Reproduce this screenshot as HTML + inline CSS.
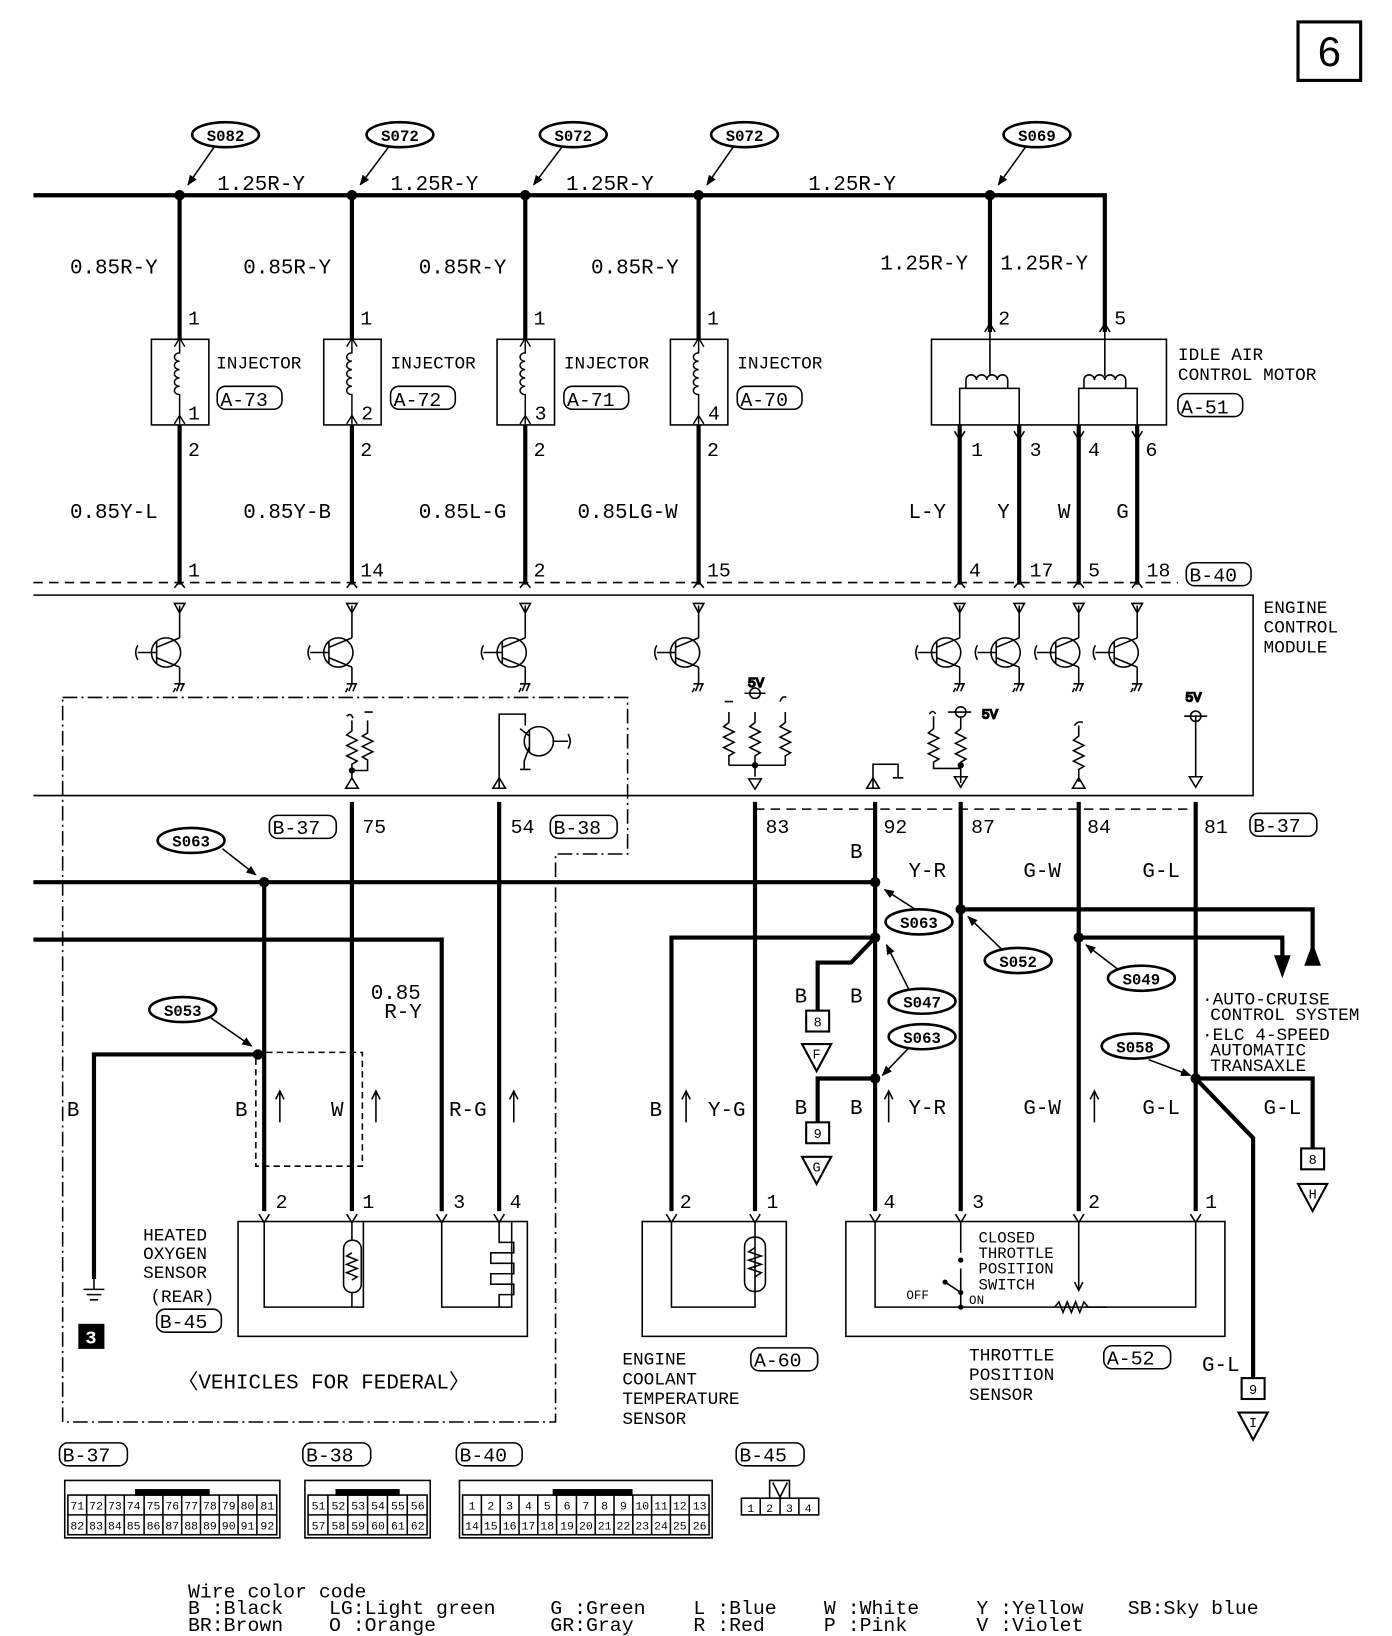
<!DOCTYPE html>
<html><head><meta charset="utf-8"><style>
html,body{margin:0;padding:0;background:#fff;}
svg{display:block}
text{font-family:"Liberation Mono","DejaVu Sans Mono",monospace;fill:#000;}
.t{font-size:20px;}
.s{font-size:17px;}
.n{font-size:19px;}
.sp{font-size:15px;font-weight:bold;}
.lg{font-size:19px;}
</style></head><body>
<svg width="1392" height="1636" viewBox="0 0 1333 1567" preserveAspectRatio="none" xmlns="http://www.w3.org/2000/svg">
<defs>
<marker id="ar" markerWidth="10" markerHeight="8" refX="9" refY="4" orient="auto" markerUnits="userSpaceOnUse"><path d="M0,0 L10,4 L0,8 z" fill="#000"/></marker>
<g id="tr" fill="none" stroke="#000" stroke-width="1.5">
 <circle cx="-13" cy="0" r="14"/>
 <line x1="-40" y1="0" x2="-22" y2="0"/>
 <path d="M-40,-7 q-4,7 0,14"/>
 <line x1="-22" y1="-10" x2="-22" y2="10"/>
 <line x1="-22" y1="-5" x2="0" y2="-14"/>
 <line x1="-22" y1="5" x2="0" y2="14"/>
 <line x1="0" y1="-45" x2="0" y2="-14"/>
 <line x1="0" y1="14" x2="0" y2="30"/>
 <path d="M-5,-47 h10 l-5,9 z"/>
 <path d="M-5,30 h10 M-4,34 l-2,4 M0,30 l-3,7 M4,30 l-3,7"/>
</g>
<g id="coil" fill="none" stroke="#000" stroke-width="1.4">
 <path d="M0,-40 v12 a5,4 0 1 0 0,8 a5,4 0 1 0 0,8 a5,4 0 1 0 0,8 a5,4 0 1 0 0,8 a5,4 0 1 0 0,8 v28"/>
 <path d="M-5,-34 l5,-8 l5,8 M-5,40 l5,-8 l5,8"/>
</g>
<g id="sp"><ellipse cx="0" cy="0" rx="32" ry="12" fill="#fff" stroke="#000" stroke-width="2.5"/></g>
</defs>

<rect x="1243" y="21" width="60" height="56" fill="none" stroke="#000" stroke-width="3"/>
<text x="1273" y="63" font-size="40" text-anchor="middle" style="font-family:'Liberation Sans',sans-serif">6</text>

<g stroke="#000" stroke-width="4" fill="none">
<path d="M32,187 H1058 V318"/>
<path d="M948,187 V318"/>
<path d="M172,187 V560 M337,187 V560 M503,187 V560 M669,187 V560"/>
<path d="M919,407 V560 M976,407 V560 M1033,407 V560 M1089,407 V560"/>
</g>
<g fill="#000">
<circle cx="172" cy="187" r="5"/><circle cx="337" cy="187" r="5"/><circle cx="503" cy="187" r="5"/><circle cx="669" cy="187" r="5"/><circle cx="948" cy="187" r="5"/>
</g>
<g stroke="#000" stroke-width="1.5" fill="none" marker-end="url(#ar)">
<line x1="205" y1="141" x2="180" y2="177"/><line x1="372" y1="141" x2="345" y2="177"/><line x1="538" y1="141" x2="511" y2="177"/><line x1="702" y1="141" x2="677" y2="177"/><line x1="982" y1="141" x2="956" y2="177"/>
</g>
<use href="#sp" x="216" y="129"/><use href="#sp" x="383" y="129"/><use href="#sp" x="549" y="129"/><use href="#sp" x="713" y="129"/><use href="#sp" x="993" y="129"/>
<g class="sp" text-anchor="middle">
<text x="216" y="135">S082</text><text x="383" y="135">S072</text><text x="549" y="135">S072</text><text x="713" y="135">S072</text><text x="993" y="135">S069</text>
</g>
<g class="t">
<text x="208" y="182">1.25R-Y</text><text x="374" y="182">1.25R-Y</text><text x="542" y="182">1.25R-Y</text><text x="774" y="182">1.25R-Y</text>
<text x="67" y="262">0.85R-Y</text><text x="233" y="262">0.85R-Y</text><text x="401" y="262">0.85R-Y</text><text x="566" y="262">0.85R-Y</text>
<text x="843" y="258">1.25R-Y</text><text x="958" y="258">1.25R-Y</text>
<text x="67" y="496">0.85Y-L</text><text x="233" y="496">0.85Y-B</text><text x="401" y="496">0.85L-G</text><text x="553" y="496">0.85LG-W</text>
<text x="870" y="496">L-Y</text><text x="955" y="496">Y</text><text x="1013" y="496">W</text><text x="1069" y="496">G</text>
</g>
<g fill="#fff" stroke="#000" stroke-width="1.5">
<rect x="145" y="325" width="55" height="82"/><rect x="310" y="325" width="55" height="82"/><rect x="476" y="325" width="55" height="82"/><rect x="642" y="325" width="55" height="82"/>
</g>
<use href="#coil" x="172" y="366"/><use href="#coil" x="337" y="366"/><use href="#coil" x="503" y="366"/><use href="#coil" x="669" y="366"/>
<g class="n">
<text x="180" y="311">1</text><text x="345" y="311">1</text><text x="511" y="311">1</text><text x="677" y="311">1</text>
<text x="180" y="402">1</text><text x="346" y="402">2</text><text x="512" y="402">3</text><text x="678" y="402">4</text>
<text x="180" y="437">2</text><text x="345" y="437">2</text><text x="511" y="437">2</text><text x="677" y="437">2</text>
<text x="180" y="552">1</text><text x="345" y="552">14</text><text x="511" y="552">2</text><text x="677" y="552">15</text>
<text x="956" y="311">2</text><text x="1067" y="311">5</text>
<text x="930" y="437">1</text><text x="986" y="437">3</text><text x="1042" y="437">4</text><text x="1097" y="437">6</text>
<text x="928" y="552">4</text><text x="986" y="552">17</text><text x="1042" y="552">5</text><text x="1098" y="552">18</text>
</g>
<g class="s">
<text x="207" y="353">INJECTOR</text><text x="374" y="353">INJECTOR</text><text x="540" y="353">INJECTOR</text><text x="706" y="353">INJECTOR</text>
<text x="1128" y="345">IDLE AIR</text><text x="1128" y="364">CONTROL MOTOR</text>
<text x="1210" y="587">ENGINE</text><text x="1210" y="606">CONTROL</text><text x="1210" y="625">MODULE</text>
</g>
<g fill="none" stroke="#000" stroke-width="1.5">
<rect x="208" y="370" width="62" height="22" rx="8"/><rect x="374" y="370" width="62" height="22" rx="8"/><rect x="540" y="370" width="62" height="22" rx="8"/><rect x="706" y="370" width="62" height="22" rx="8"/>
<rect x="1128" y="377" width="62" height="22" rx="8"/><rect x="1136" y="539" width="62" height="22" rx="8"/>
</g>
<g class="n">
<text x="211" y="389">A-73</text><text x="377" y="389">A-72</text><text x="543" y="389">A-71</text><text x="709" y="389">A-70</text>
<text x="1131" y="396">A-51</text><text x="1139" y="557">B-40</text>
</g>
<g fill="none" stroke="#000" stroke-width="1.5">
<rect x="892" y="325" width="225" height="82"/>
<path d="M948,318 V360 M919,407 V372 H976 V407 M1058,318 V360 M1033,407 V372 H1089 V407"/>
<path d="M925,372 v-8 a5,5 0 0 1 10,0 a5,5 0 0 1 10,0 a5,5 0 0 1 10,0 a5,5 0 0 1 10,0 v8"/>
<path d="M1038,372 v-8 a5,5 0 0 1 10,0 a5,5 0 0 1 10,0 a5,5 0 0 1 10,0 a5,5 0 0 1 10,0 v8"/>
<path d="M943,318 l5,-8 l5,8 M1053,318 l5,-8 l5,8 M914,413 l5,8 l5,-8 M971,413 l5,8 l5,-8 M1028,413 l5,8 l5,-8 M1084,413 l5,8 l5,-8"/>
</g>
<line x1="32" y1="558" x2="1128" y2="558" stroke="#000" stroke-width="1.5" stroke-dasharray="9,6"/>
<g fill="none" stroke="#000" stroke-width="1.5">
<path d="M32,570 H1200 V762 H32"/>
<path d="M167,563 l5,-6 l5,6 M332,563 l5,-6 l5,6 M498,563 l5,-6 l5,6 M664,563 l5,-6 l5,6 M914,563 l5,-6 l5,6 M971,563 l5,-6 l5,6 M1028,563 l5,-6 l5,6 M1084,563 l5,-6 l5,6"/>
</g>
<use href="#tr" x="172" y="625"/><use href="#tr" x="337" y="625"/><use href="#tr" x="503" y="625"/><use href="#tr" x="669" y="625"/>
<use href="#tr" x="919" y="625"/><use href="#tr" x="976" y="625"/><use href="#tr" x="1033" y="625"/><use href="#tr" x="1089" y="625"/>
<path d="M60,668 H601 V818 H532 V1362 H60 Z" fill="none" stroke="#000" stroke-width="1.5" stroke-dasharray="14,4,2,4"/>
<g fill="none" stroke="#000" stroke-width="1.5">
<path d="M337,690 v10 l-5,4 l10,5 l-10,5 l10,5 l-10,5 l10,5 l-5,3 v14 M337,738 h15 v-10 l-5,-3 l10,-5 l-10,-5 l10,-5 l-10,-5 l5,-3 v-12 M332,686 q4,-4 6,2 M349,682 h8"/>
<path d="M331,755 l6,-10 l6,10 z"/>
<path d="M478,755 V684 H503 V695"/>
<path d="M472,755 l6,-10 l6,10 z"/>
<circle cx="516" cy="710" r="14"/><path d="M507,700 v20 M507,705 l-9,-7 M507,715 l-5,14 v8 M529,710 h15 M544,703 q4,7 0,14 M498,737 h10"/>
<path d="M723,682 v10 l-5,4 l10,5 l-10,5 l10,5 l-10,5 l10,5 l-5,3 v9 M698,682 v10 l-5,4 l10,5 l-10,5 l10,5 l-10,5 l10,5 l-5,3 v9 M752,682 v10 l-5,4 l10,5 l-10,5 l10,5 l-10,5 l10,5 l-5,3 v9 M698,733 H752 M723,733 V744 M713,664 h20 M747,672 q2,-6 6,-4 M694,672 h8"/>
<circle cx="723" cy="664" r="5"/><text x="716" y="658" font-size="13">5V</text>
<path d="M717,746 h12 l-6,10 z"/>
<path d="M836,755 V732 H860 V745 M855,745 h10"/>
<path d="M830,755 l6,-10 l6,10 z"/>
<path d="M894,686 v12 l-5,4 l10,5 l-10,5 l10,5 l-10,5 l10,5 l-5,3 v6 H920 M920,686 v12 l-5,4 l10,5 l-10,5 l10,5 l-10,5 l10,5 l-5,3 v20 M908,682 h22 M890,684 q3,-5 6,0"/>
<circle cx="920" cy="682" r="5"/><text x="940" y="688" font-size="13">5V</text>
<path d="M914,744 h12 l-6,10 z"/>
<path d="M1033,695 v10 l-5,4 l10,5 l-10,5 l10,5 l-10,5 l10,5 l-5,3 v12 M1029,695 q3,-5 8,-3"/>
<path d="M1027,755 l6,-10 l6,10 z"/>
<path d="M1145,686 V744 M1134,686 h22"/><circle cx="1145" cy="686" r="5"/><text x="1135" y="672" font-size="13">5V</text>
<path d="M1139,744 h12 l-6,10 z"/>
</g>
<g fill="#000"><circle cx="337" cy="738" r="3"/><circle cx="723" cy="733" r="3"/><circle cx="920" cy="733" r="3"/></g>
<line x1="723" y1="775" x2="1145" y2="775" stroke="#000" stroke-width="1.5" stroke-dasharray="9,6"/>
<g fill="none" stroke="#000" stroke-width="4">
<path d="M32,845 H838"/>
<path d="M32,900 H423 V1160"/>
<path d="M253,845 V1160 M337,768 V1160 M478,768 V1160"/>
<path d="M90,1225 V1010 H249"/>
<path d="M838,768 V1160 M920,768 V1160 M1033,768 V1160 M1145,768 V1160 M723,768 V1160"/>
<path d="M838,898 H643 V1160"/>
<path d="M838,898 L815,922 H783 V968"/>
<path d="M838,1033 H783 V1075"/>
<path d="M920,871 H1257 V920"/>
<path d="M1033,898 H1228 V920"/>
<path d="M1145,1033 H1257 V1100"/>
<path d="M1145,1033 L1200,1090 V1320"/>
</g>
<g fill="#000">
<path d="M1220,915 h16 l-8,22 z"/><path d="M1249,925 h16 l-8,-22 z"/>
<circle cx="253" cy="845" r="5"/><circle cx="247" cy="1010" r="5"/>
<circle cx="838" cy="845" r="5"/><circle cx="838" cy="898" r="5"/><circle cx="838" cy="1033" r="5"/>
<circle cx="920" cy="871" r="5"/><circle cx="1033" cy="898" r="5"/><circle cx="1145" cy="1033" r="5"/>
</g>
<g fill="none" stroke="#000" stroke-width="1.5" marker-end="url(#ar)">
<line x1="213" y1="813" x2="245" y2="838"/><line x1="202" y1="975" x2="241" y2="1002"/><line x1="878" y1="872" x2="847" y2="852"/><line x1="960" y1="910" x2="927" y2="878"/><line x1="1070" y1="928" x2="1040" y2="905"/><line x1="870" y1="947" x2="849" y2="905"/><line x1="870" y1="1004" x2="845" y2="1030"/><line x1="1100" y1="1015" x2="1140" y2="1030"/>
</g>
<g fill="none" stroke="#000" stroke-width="1.5">
<rect x="245" y="1008" width="102" height="109" stroke-dasharray="6,4"/>
<path d="M268,1075 V1047 M264,1053 l4,-8 l4,8 M360,1075 V1047 M356,1053 l4,-8 l4,8 M492,1075 V1047 M488,1053 l4,-8 l4,8 M657,1075 V1047 M653,1053 l4,-8 l4,8 M851,1075 V1047 M847,1053 l4,-8 l4,8 M1048,1075 V1047 M1044,1053 l4,-8 l4,8"/>
<path d="M248,1163 l5,8 l5,-8 M332,1163 l5,8 l5,-8 M418,1163 l5,8 l5,-8 M473,1163 l5,8 l5,-8 M638,1163 l5,8 l5,-8 M718,1163 l5,8 l5,-8 M833,1163 l5,8 l5,-8 M915,1163 l5,8 l5,-8 M1028,1163 l5,8 l5,-8 M1140,1163 l5,8 l5,-8"/>
</g>
<use href="#sp" x="183" y="805"/><use href="#sp" x="175" y="967"/><use href="#sp" x="880" y="883"/><use href="#sp" x="975" y="920"/><use href="#sp" x="1093" y="937"/><use href="#sp" x="883" y="959"/><use href="#sp" x="883" y="993"/><use href="#sp" x="1087" y="1002"/>
<g class="sp" text-anchor="middle">
<text x="183" y="811">S063</text><text x="175" y="973">S053</text><text x="880" y="889">S063</text><text x="975" y="926">S052</text><text x="1093" y="943">S049</text><text x="883" y="965">S047</text><text x="883" y="999">S063</text><text x="1087" y="1008">S058</text>
</g>
<g fill="none" stroke="#000" stroke-width="1.5">
<rect x="258" y="781" width="64" height="22" rx="8"/><rect x="527" y="781" width="64" height="22" rx="8"/><rect x="1197" y="779" width="64" height="22" rx="8"/>
<rect x="719" y="1291" width="64" height="22" rx="8"/><rect x="1057" y="1289" width="64" height="22" rx="8"/><rect x="150" y="1254" width="62" height="22" rx="8"/>
</g>
<g class="n">
<text x="261" y="799">B-37</text><text x="530" y="799">B-38</text><text x="1200" y="797">B-37</text>
<text x="722" y="1309">A-60</text><text x="1060" y="1307">A-52</text><text x="153" y="1272">B-45</text>
<text x="347" y="798">75</text><text x="489" y="798">54</text><text x="733" y="798">83</text><text x="846" y="798">92</text><text x="930" y="798">87</text><text x="1041" y="798">84</text><text x="1153" y="798">81</text>
<text x="264" y="1157">2</text><text x="347" y="1157">1</text><text x="434" y="1157">3</text><text x="488" y="1157">4</text>
<text x="651" y="1157">2</text><text x="734" y="1157">1</text><text x="846" y="1157">4</text><text x="931" y="1157">3</text><text x="1042" y="1157">2</text><text x="1154" y="1157">1</text>
</g>
<g class="t">
<text x="814" y="822">B</text><text x="870" y="840">Y-R</text><text x="980" y="840">G-W</text><text x="1094" y="840">G-L</text>
<text x="355" y="957">0.85</text><text x="368" y="975">R-Y</text>
<text x="64" y="1069">B</text><text x="225" y="1069">B</text><text x="317" y="1069">W</text><text x="430" y="1069">R-G</text>
<text x="622" y="1069">B</text><text x="678" y="1069">Y-G</text>
<text x="761" y="960">B</text><text x="814" y="960">B</text><text x="761" y="1067">B</text><text x="814" y="1067">B</text>
<text x="870" y="1067">Y-R</text><text x="980" y="1067">G-W</text><text x="1094" y="1067">G-L</text><text x="1210" y="1067">G-L</text>
<text x="1151" y="1313">G-L</text>
</g>
<g class="s">
<text x="1151" y="962">·AUTO-CRUISE</text><text x="1159" y="977">CONTROL SYSTEM</text>
<text x="1151" y="996">·ELC 4-SPEED</text><text x="1159" y="1011">AUTOMATIC</text><text x="1159" y="1026">TRANSAXLE</text>
<text x="137" y="1188">HEATED</text><text x="137" y="1206">OXYGEN</text><text x="137" y="1224">SENSOR</text><text x="144" y="1247">(REAR)</text>
<text x="170" y="1330" class="t">〈VEHICLES FOR FEDERAL〉</text>
<text x="596" y="1307">ENGINE</text><text x="596" y="1326">COOLANT</text><text x="596" y="1345">TEMPERATURE</text><text x="596" y="1364">SENSOR</text>
<text x="928" y="1303">THROTTLE</text><text x="928" y="1322">POSITION</text><text x="928" y="1341">SENSOR</text>
</g>
<g fill="#fff" stroke="#000" stroke-width="2">
<rect x="772" y="968" width="22" height="20"/><rect x="772" y="1075" width="22" height="20"/><rect x="1246" y="1100" width="22" height="20"/><rect x="1189" y="1320" width="22" height="20"/>
<path d="M768,1000 h28 l-14,26 z"/><path d="M768,1108 h28 l-14,26 z"/><path d="M1243,1134 h28 l-14,26 z"/><path d="M1186,1353 h28 l-14,26 z"/>
</g>
<g font-size="13" text-anchor="middle">
<text x="783" y="983">8</text><text x="783" y="1090">9</text><text x="1257" y="1115">8</text><text x="1200" y="1335">9</text>
<text x="782" y="1014">F</text><text x="782" y="1122">G</text><text x="1257" y="1148">H</text><text x="1200" y="1367">I</text>
</g>
<g fill="none" stroke="#000" stroke-width="1.5">
<rect x="228" y="1170" width="277" height="110"/>
<path d="M253,1170 V1252 H348 V1170 M423,1170 V1252 H490 V1170"/>
<rect x="329" y="1188" width="17" height="50" rx="8"/>
<path d="M337,1200 l-5,3 l10,4 l-10,4 l10,4 l-10,4 l10,4 l-5,3 M337,1170 V1188 M337,1238 V1252"/>
<path d="M478,1170 V1190 H492 V1200 H470 V1210 H492 V1220 H470 V1230 H492 V1240 H478 V1252"/>
<rect x="615" y="1170" width="138" height="110"/>
<path d="M643,1170 V1252 H723 V1170"/>
<rect x="713" y="1185" width="20" height="52" rx="9"/>
<path d="M723,1195 l-6,4 l12,4 l-12,4 l12,4 l-12,4 l12,4 l-6,4"/>
<rect x="810" y="1170" width="363" height="110"/>
<path d="M838,1170 V1252 H1145 V1170 M920,1170 V1200 M920,1215 V1252 M1033,1170 V1235"/>
<path d="M905,1228 L920,1238 M1010,1252 l4,-5 l4,10 l4,-10 l4,10 l4,-10 l4,10 l4,-10 l4,5 H1060"/>
<path d="M1029,1228 l4,8 l4,-8"/>
<path d="M90,1225 V1235 M80,1235 h20 M83,1240 h14 M86,1245 h8"/>
</g>
<circle cx="905" cy="1228" r="2.5"/><circle cx="920" cy="1238" r="2.5"/><circle cx="920" cy="1252" r="2.5"/><circle cx="920" cy="1207" r="2.5"/>
<text x="868" y="1244" font-size="12">OFF</text><text x="928" y="1249" font-size="12">ON</text>
<g font-size="15"><text x="937" y="1190">CLOSED</text><text x="937" y="1205">THROTTLE</text><text x="937" y="1220">POSITION</text><text x="937" y="1235">SWITCH</text></g>
<rect x="75" y="1268" width="25" height="24" fill="#000"/><text x="87" y="1287" font-size="18" style="fill:#fff;font-weight:bold" text-anchor="middle">3</text>
<g fill="none" stroke="#000" stroke-width="1.5">
<rect x="57" y="1382" width="65" height="22" rx="8"/><rect x="290" y="1382" width="65" height="22" rx="8"/><rect x="437" y="1382" width="63" height="22" rx="8"/><rect x="705" y="1382" width="65" height="22" rx="8"/>
<rect x="62" y="1418" width="206" height="55"/><rect x="65" y="1432" width="200" height="38"/>
<rect x="292" y="1418" width="120" height="55"/><rect x="295" y="1432" width="114" height="38"/>
<rect x="440" y="1418" width="242" height="55"/><rect x="443" y="1432" width="236" height="38"/>
<rect x="710" y="1435" width="74" height="16"/><path d="M728,1435 v16 M747,1435 v16 M765,1435 v16 M737,1435 V1418 H756 V1435 M740,1420 l7,14 l7,-14"/>
<path d="M65,1451 H265 M295,1451 H409 M443,1451 H679"/>
<path d="M83,1432 V1470 M101,1432 V1470 M119,1432 V1470 M138,1432 V1470 M156,1432 V1470 M174,1432 V1470 M192,1432 V1470 M210,1432 V1470 M228,1432 V1470 M246,1432 V1470"/>
<path d="M314,1432 V1470 M333,1432 V1470 M352,1432 V1470 M371,1432 V1470 M390,1432 V1470"/>
<path d="M461,1432 V1470 M479,1432 V1470 M497,1432 V1470 M515,1432 V1470 M533,1432 V1470 M552,1432 V1470 M570,1432 V1470 M588,1432 V1470 M606,1432 V1470 M624,1432 V1470 M642,1432 V1470 M660,1432 V1470"/>
<rect x="130" y="1427" width="70" height="5" fill="#000"/><rect x="322" y="1427" width="60" height="5" fill="#000"/><rect x="530" y="1427" width="75" height="5" fill="#000"/>
</g>
<g class="n"><text x="60" y="1400">B-37</text><text x="293" y="1400">B-38</text><text x="440" y="1400">B-40</text><text x="708" y="1400">B-45</text></g>
<g font-size="11" text-anchor="middle">
<text x="74" y="1446">71</text><text x="92" y="1446">72</text><text x="110" y="1446">73</text><text x="128" y="1446">74</text><text x="147" y="1446">75</text><text x="165" y="1446">76</text><text x="183" y="1446">77</text><text x="201" y="1446">78</text><text x="219" y="1446">79</text><text x="237" y="1446">80</text><text x="256" y="1446">81</text>
<text x="74" y="1465">82</text><text x="92" y="1465">83</text><text x="110" y="1465">84</text><text x="128" y="1465">85</text><text x="147" y="1465">86</text><text x="165" y="1465">87</text><text x="183" y="1465">88</text><text x="201" y="1465">89</text><text x="219" y="1465">90</text><text x="237" y="1465">91</text><text x="256" y="1465">92</text>
<text x="305" y="1446">51</text><text x="324" y="1446">52</text><text x="343" y="1446">53</text><text x="362" y="1446">54</text><text x="381" y="1446">55</text><text x="400" y="1446">56</text>
<text x="305" y="1465">57</text><text x="324" y="1465">58</text><text x="343" y="1465">59</text><text x="362" y="1465">60</text><text x="381" y="1465">61</text><text x="400" y="1465">62</text>
<text x="452" y="1446">1</text><text x="470" y="1446">2</text><text x="488" y="1446">3</text><text x="506" y="1446">4</text><text x="524" y="1446">5</text><text x="543" y="1446">6</text><text x="561" y="1446">7</text><text x="579" y="1446">8</text><text x="597" y="1446">9</text><text x="615" y="1446">10</text><text x="633" y="1446">11</text><text x="651" y="1446">12</text><text x="670" y="1446">13</text>
<text x="452" y="1465">14</text><text x="470" y="1465">15</text><text x="488" y="1465">16</text><text x="506" y="1465">17</text><text x="524" y="1465">18</text><text x="543" y="1465">19</text><text x="561" y="1465">20</text><text x="579" y="1465">21</text><text x="597" y="1465">22</text><text x="615" y="1465">23</text><text x="633" y="1465">24</text><text x="651" y="1465">25</text><text x="670" y="1465">26</text>
<text x="719" y="1448">1</text><text x="737" y="1448">2</text><text x="756" y="1448">3</text><text x="774" y="1448">4</text>
</g>
<g class="lg">
<text x="180" y="1530">Wire color code</text>
<text x="180" y="1546">B :Black</text><text x="315" y="1546">LG:Light green</text><text x="527" y="1546">G :Green</text><text x="664" y="1546">L :Blue</text><text x="789" y="1546">W :White</text><text x="935" y="1546">Y :Yellow</text><text x="1080" y="1546">SB:Sky blue</text>
<text x="180" y="1562">BR:Brown</text><text x="315" y="1562">O :Orange</text><text x="527" y="1562">GR:Gray</text><text x="664" y="1562">R :Red</text><text x="789" y="1562">P :Pink</text><text x="935" y="1562">V :Violet</text>
</g>
</svg>
</body></html>
